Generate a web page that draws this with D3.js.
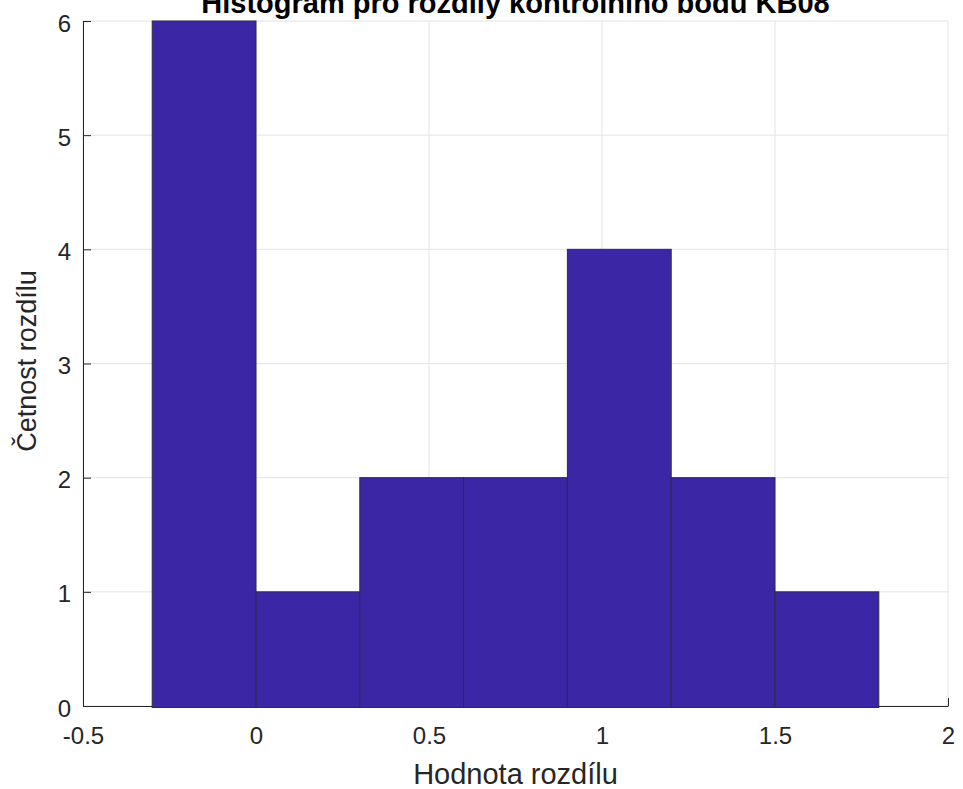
<!DOCTYPE html>
<html><head><meta charset="utf-8">
<script src="https://cdn.jsdelivr.net/npm/d3@7"></script>
<style>body{margin:0;background:#fff}svg{display:block}text{font-family:"Liberation Sans",Arial,Helvetica,sans-serif}</style>
</head><body>
<script>
const binEdges = [-0.3, 0, 0.3, 0.6, 0.9, 1.2, 1.5, 1.8];
const counts = [6, 1, 2, 2, 4, 2, 1];
const xTicks = [-0.5, 0, 0.5, 1, 1.5, 2];
const yTicks = [0, 1, 2, 3, 4, 5, 6];
const title = "Histogram pro rozdíly kontrolního bodu KB08";
const xLabel = "Hodnota rozdílu";
const yLabel = "Četnost rozdílu";

const W = 963, H = 789;
const m = {left: 83, right: 15, top: 21, bottom: 83};
const svg = d3.select("body").append("svg").attr("width", W).attr("height", H);
const x = d3.scaleLinear().domain([-0.5, 2]).range([m.left, W - m.right]);
const y = d3.scaleLinear().domain([0, 6]).range([H - m.bottom, m.top]);

// grid
svg.append("g").selectAll("line").data(xTicks).join("line")
  .attr("x1", d => x(d)).attr("x2", d => x(d)).attr("y1", y(0)).attr("y2", y(6))
  .attr("stroke", "#e3e3e3").attr("stroke-width", 1);
svg.append("g").selectAll("line").data(yTicks).join("line")
  .attr("x1", x(-0.5)).attr("x2", x(2)).attr("y1", d => y(d)).attr("y2", d => y(d))
  .attr("stroke", "#e3e3e3").attr("stroke-width", 1);

// axes
const xAxis = d3.axisBottom(x).tickValues(xTicks).tickSizeInner(-8).tickSizeOuter(0).tickPadding(21)
  .tickFormat(d => (d < 0 ? "-" : "") + Math.abs(d));
const yAxis = d3.axisLeft(y).tickValues(yTicks).tickSizeInner(-8).tickSizeOuter(0).tickPadding(12)
  .tickFormat(d3.format("d"));
const gx = svg.append("g").attr("transform", `translate(0,${y(0)})`).call(xAxis);
const gy = svg.append("g").attr("transform", `translate(${x(-0.5)},0)`).call(yAxis);
[gx, gy].forEach(g => {
  g.attr("font-size", null).attr("font-family", null);
  g.selectAll("path,line").attr("stroke", "#262626").attr("stroke-width", 1);
  g.selectAll("text").attr("fill", "#262626").style("font-size", "24px");
});
gx.selectAll("text").attr("dy", "0.71em");
gy.selectAll("text").attr("dy", "0.42em");

// bars
const bins = counts.map((c, i) => ({x0: binEdges[i], x1: binEdges[i + 1], c}));
svg.append("g").selectAll("rect").data(bins).join("rect")
  .attr("x", d => x(d.x0)).attr("width", d => x(d.x1) - x(d.x0))
  .attr("y", d => y(d.c)).attr("height", d => y(0) - y(d.c) + 1.5)
  .attr("fill", "#3b27a6").attr("stroke", "#2f2a3d").attr("stroke-width", 1);

// labels
svg.append("text").attr("x", (x(-0.5) + x(2)) / 2).attr("y", 13).attr("text-anchor", "middle")
  .style("font-size", "29px").style("font-weight", "bold").attr("fill", "#000").text(title);
svg.append("text").attr("x", (x(-0.5) + x(2)) / 2).attr("y", 784).attr("text-anchor", "middle")
  .style("font-size", "29px").attr("fill", "#262626").text(xLabel);
svg.append("text").attr("transform", `translate(36,361) rotate(-90)`).attr("text-anchor", "middle")
  .style("font-size", "27px").attr("fill", "#262626").text(yLabel);
</script>
</body></html>
